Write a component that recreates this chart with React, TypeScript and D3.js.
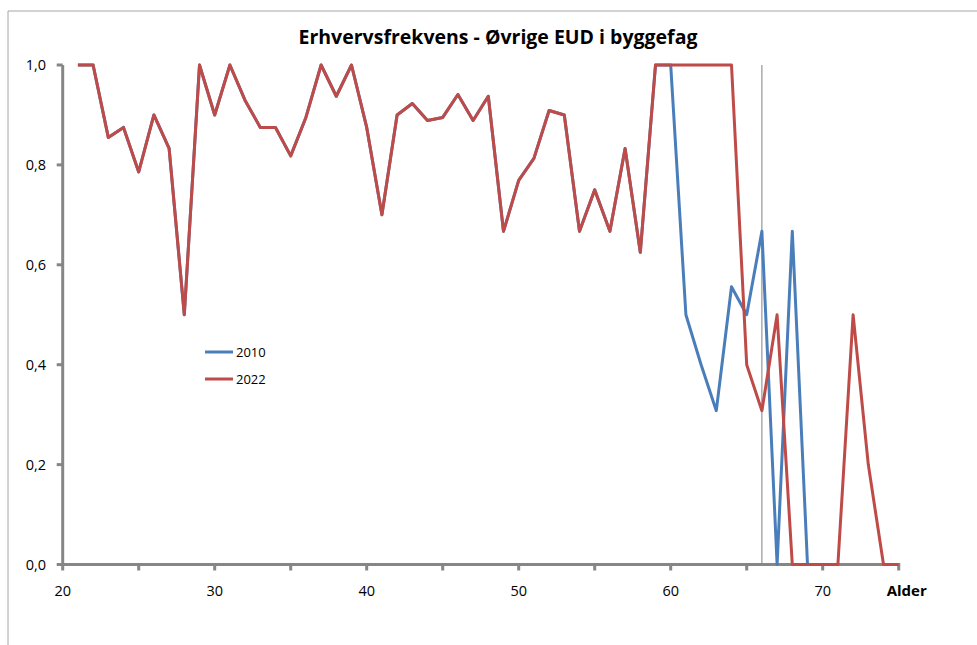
import React from "react";
import * as d3 from "d3";

const ages2022: number[] = [21,22,23,24,25,26,27,28,29,30,31,32,33,34,35,36,37,38,39,40,41,42,43,44,45,46,47,48,49,50,51,52,53,54,55,56,57,58,59,60,61,62,63,64,65,66,67,68,69,70,71,72,73,74,75];
const values2022: number[] = [1,1,0.855,0.875,0.786,0.9,0.833,0.5,1,0.9,1,0.929,0.875,0.875,0.818,0.895,1,0.9375,1,0.875,0.7,0.9,0.923,0.889,0.895,0.941,0.889,0.9375,0.667,0.769,0.813,0.909,0.9,0.667,0.75,0.667,0.833,0.625,1,1,1,1,1,1,0.4,0.308,0.5,0,0,0,0,0.5,0.2,0,0];
const ages2010: number[] = [21,22,23,24,25,26,27,28,29,30,31,32,33,34,35,36,37,38,39,40,41,42,43,44,45,46,47,48,49,50,51,52,53,54,55,56,57,58,59,60,61,62,63,64,65,66,67,68,69];
const values2010: number[] = [1,1,0.855,0.875,0.786,0.9,0.833,0.5,1,0.9,1,0.929,0.875,0.875,0.818,0.895,1,0.9375,1,0.875,0.7,0.9,0.923,0.889,0.895,0.941,0.889,0.9375,0.667,0.769,0.813,0.909,0.9,0.667,0.75,0.667,0.833,0.625,1,1,0.5,0.4,0.308,0.556,0.5,0.667,0,0.667,0];
const yTicks: number[] = [0, 0.2, 0.4, 0.6, 0.8, 1.0];
const xMajorTicks: number[] = [20, 30, 40, 50, 60, 70];
const xMinorTicks: number[] = [20, 25, 30, 35, 40, 45, 50, 55, 60, 65, 70, 75];
const markerAge = 66;
const title = "Erhvervsfrekvens - Øvrige EUD i byggefag";
const xAxisName = "Alder";
const seriesNames = ["2010", "2022"];

const W = 977, H = 645;
const FONT = "'Open Sans', 'Noto Sans', sans-serif";

export default function App() {
  const x = d3.scaleLinear().domain([20, 75]).range([62.7, 898.7]);
  const y = d3.scaleLinear().domain([0, 1]).range([564.5, 65]);
  const line = d3.line<[number, number]>().x(d => x(d[0])).y(d => y(d[1]));
  const d2010 = line(ages2010.map((a, i) => [a, values2010[i]] as [number, number])) || "";
  const d2022 = line(ages2022.map((a, i) => [a, values2022[i]] as [number, number])) || "";
  const fmt = (v: number) => v.toFixed(1).replace(".", ",");
  const axisColor = "#868686";
  const blue = "#4A7EBB";
  const red = "#BE4B48";
  return (
    <svg width={W} height={H} style={{ position: "absolute", left: 0, top: 0, background: "#fff" }} fontFamily={FONT}>
      <rect x={0} y={0} width={W} height={H} fill="#fff" />
      <line x1={8} y1={11} x2={W} y2={11} stroke="#a6a6a6" strokeWidth={1} />
      <line x1={8} y1={11} x2={8} y2={H} stroke="#a6a6a6" strokeWidth={1} />
      <text x={498} y={44} textAnchor="middle" fontSize={19.5} fontWeight="bold" fill="#000">{title}</text>
      {/* marker line */}
      <line x1={x(markerAge)} y1={y(1)} x2={x(markerAge)} y2={y(0)} stroke="#808080" strokeWidth={1} />
      {/* y axis */}
      <line x1={x(20)} y1={y(1)} x2={x(20)} y2={y(0)} stroke={axisColor} strokeWidth={3} />
      {yTicks.map(t => (
        <g key={"y" + t}>
          <line x1={x(20) - 6} y1={y(t)} x2={x(20)} y2={y(t)} stroke={axisColor} strokeWidth={3} />
          <text x={46} y={y(t)} dy="0.35em" textAnchor="end" fontSize={14.5} fill="#000">{fmt(t)}</text>
        </g>
      ))}
      {/* x axis */}
      <line x1={x(20) - 1.5} y1={y(0)} x2={x(75) + 1.5} y2={y(0)} stroke={axisColor} strokeWidth={3} />
      {xMinorTicks.map(t => (
        <line key={"xt" + t} x1={x(t)} y1={y(0)} x2={x(t)} y2={y(0) + 6} stroke={axisColor} strokeWidth={3} />
      ))}
      {xMajorTicks.map(t => (
        <text key={"xl" + t} x={x(t)} y={591} dy="0.35em" textAnchor="middle" fontSize={14.5} fill="#000">{t}</text>
      ))}
      <text x={x(75) + 8} y={591} dy="0.35em" textAnchor="middle" fontSize={15} fontWeight="bold" fill="#000">{xAxisName}</text>
      {/* series */}
      <path d={d2010} fill="none" stroke={blue} strokeWidth={3} strokeLinejoin="round" />
      <path d={d2022} fill="none" stroke={red} strokeWidth={3} strokeLinejoin="round" />
      {/* legend */}
      <line x1={205} y1={352} x2={233} y2={352} stroke={blue} strokeWidth={3} />
      <text x={236} y={352} dy="0.35em" fontSize={13} fill="#000">{seriesNames[0]}</text>
      <line x1={205} y1={379} x2={233} y2={379} stroke={red} strokeWidth={3} />
      <text x={236} y={379} dy="0.35em" fontSize={13} fill="#000">{seriesNames[1]}</text>
    </svg>
  );
}
